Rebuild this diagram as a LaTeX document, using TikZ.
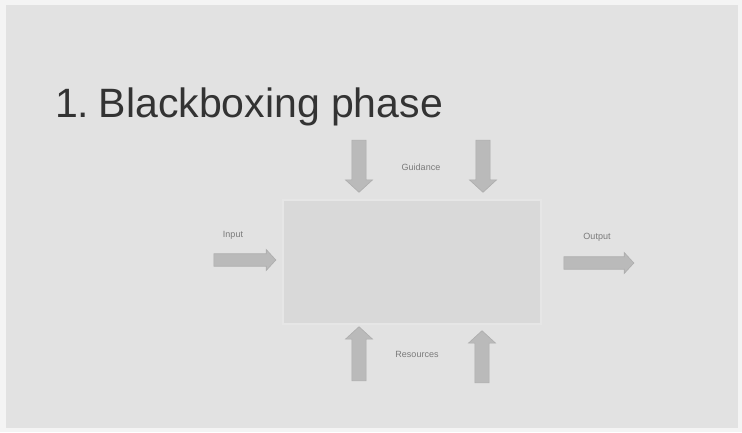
\documentclass[tikz,border=0pt]{standalone}
\usepackage{fontspec}
\setmainfont{Liberation Sans}
\usetikzlibrary{shapes.arrows}
\definecolor{bgpaper}{HTML}{F4F4F4}
\definecolor{bgslide}{HTML}{E2E2E2}
\definecolor{boxfill}{HTML}{D9D9D9}
\definecolor{boxedge}{HTML}{E6E6E6}
\definecolor{arrowfill}{HTML}{BABABA}
\definecolor{arrowedge}{HTML}{ADADAD}
\definecolor{titlecol}{HTML}{333333}
\definecolor{labelcol}{HTML}{7A7A7A}
\tikzset{
  blockarrow/.style={single arrow, draw=arrowedge, fill=arrowfill, line width=0.6pt,
    minimum width=27pt, single arrow head extend=6pt, single arrow tip angle=95,
    inner sep=6.5pt, outer sep=0pt},
  smallblockarrow/.style={blockarrow, minimum width=21pt, inner sep=5.5pt, single arrow head extend=4pt},
  smalllabel/.style={font=\fontsize{9}{10}\selectfont, text=labelcol, inner sep=0pt},
}
\begin{document}
\begin{tikzpicture}[x=1pt,y=-1pt]
\useasboundingbox (0,0) rectangle (742,432);
\fill[bgpaper] (0,0) rectangle (742,432);
\fill[bgslide] (6,5) rectangle (738,428);
% title
\node[anchor=base west, inner sep=0pt, text=titlecol, font=\fontsize{41}{48}\selectfont] (title) at (55,117) {1.\kern-2pt\ Blackboxing phase};
% black box
\node[draw=boxedge, fill=boxfill, line width=2pt, minimum width=258pt, minimum height=124pt, inner sep=0pt] (bbox) at (412,262) {};
% guidance
\node[blockarrow, minimum height=52pt, shape border rotate=270] (g1) at (359,163) {};
\node[blockarrow, minimum height=52pt, shape border rotate=270] (g2) at (483,163) {};
\node[smalllabel] (guid) at (421,167) {Guidance};
% resources
\node[blockarrow, minimum height=54pt, shape border rotate=90] (r1) at (359,357) {};
\node[blockarrow, minimum height=52pt, shape border rotate=90] (r2) at (482,360) {};
\node[smalllabel] (res) at (417,354) {Resources};
% input
\node[smalllabel] (inlab) at (233,235) {Input};
\node[smallblockarrow, minimum height=62pt] (inarr) at (242,260) {};
% output
\node[smalllabel] (outlab) at (597,237) {Output};
\node[smallblockarrow, minimum height=70pt] (outarr) at (596,263) {};
\end{tikzpicture}
\end{document}
